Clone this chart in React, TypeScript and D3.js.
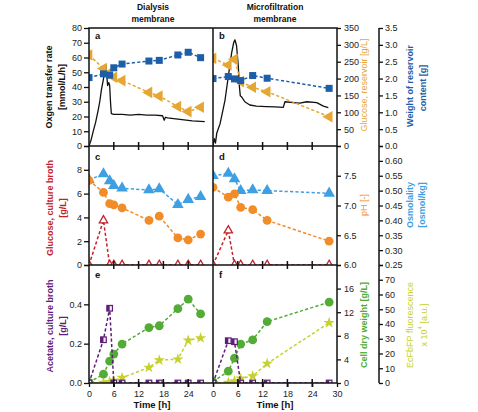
import React, { useEffect, useRef } from 'react';
import * as d3 from 'd3';

// ---- oxygen transfer rate (continuous signal)
const otrDialysisTime = [0, 0.5, 1.0, 1.6, 2.2, 2.6, 3.0, 3.4, 3.8, 4.1, 4.3, 4.5, 4.8, 5.0, 5.2, 5.4, 6, 8, 10, 12, 14, 16, 17.8, 18.2, 18.5, 19, 22, 25, 28];
const otrDialysis = [0, 4, 9.7, 16, 24, 30, 38, 44, 50, 55, 48, 41, 43, 41, 30, 22, 21.5, 21.5, 21, 21.5, 21, 21, 20.5, 17.5, 19.5, 19, 18, 17, 16.5];
const otrMicroTime = [0, 0.3, 0.6, 0.9, 1.7, 2.9, 3.7, 4.5, 5.0, 5.3, 5.7, 6.1, 6.4, 6.6, 7.0, 7.7, 8.9, 10.5, 12.9, 15, 17, 17.4, 19.4, 21, 22.7, 25.1, 26.7, 27.9];
const otrMicro = [0, 5, 2, 8.6, 15, 31, 47, 63, 70, 72, 68, 55, 40, 34, 33, 30, 27.8, 27, 26.7, 26.5, 26.2, 30, 29.4, 29, 30, 29.4, 27, 26];

// ---- dialysis membrane samples
const dialysisTime = [0, 3.5, 5, 6, 8, 14.5, 17, 21.5, 24, 27];
const dialysisGlcReservoir = [270, 230, 217, 204, 194, 159, 148, 117, 102, 115];
const dialysisWeight = [2.03, 2.14, 2.1, 2.32, 2.43, 2.52, 2.54, 2.7, 2.78, 2.62];
const dialysisOsmolality = [0.536, 0.556, 0.533, 0.517, 0.508, 0.502, 0.506, 0.453, 0.47, 0.48];
const dialysisPh = [7.42, 7.22, 7.03, 7.01, 6.96, 6.75, 6.82, 6.455, 6.42, 6.52];
const dialysisGlcBroth = [0, 3.75, 0, 0, 0, 0, 0, 0, 0, 0];
const dialysisCdw = [0.1, 1.5, 3.7, 4.9, 6.6, 9.4, 9.7, 12.6, 14.2, 11.7];
const dialysisFluor = [0, 0.3, 0.8, 1.6, 3.6, 10.5, 15.5, 16.1, 28.9, 30.5];
const dialysisAcetate = [0, 0.22, 0.38, 0, 0, 0, 0, 0, 0, 0];

// ---- microfiltration membrane samples
const microTime = [0, 3.7, 5.2, 6.7, 9.6, 13.1, 28.1];
const microGlcReservoir = [260, 240, 257, 191, 174, 161, 87];
const microWeight = [2.0, 2.06, 1.99, 1.94, 2.09, 2.01, 1.71];
const microOsmolality = [0.55, 0.558, 0.539, 0.5, 0.502, 0.5, 0.491];
const microPh = [7.305, 7.14, 7.195, 6.97, 6.93, 6.75, 6.4];
const microGlcBroth = [0, 2.9, 0, 0, 0, 0, 0];
const microCdw = [0.2, 2.0, 4.2, 6.6, 7.3, 10.4, 13.7];
const microFluor = [0, 0.3, 1.3, 3.1, 4.7, 13.2, 40.8];
const microAcetate = [0, 0.215, 0.21, 0, 0, 0, 0];

// ---- tick values
const timeTicks = [0, 6, 12, 18, 24, 30];
const otrTicks = [0, 10, 20, 30, 40, 50, 60, 70, 80];
const glcResTicks = [0, 50, 100, 150, 200, 250, 300, 350];
const weightTicks = [0, 0.5, 1, 1.5, 2, 2.5, 3, 3.5];
const glcBrothTicks = [0, 2, 4, 6, 8, 10];
const phTicks = [6, 6.5, 7, 7.5, 8];
const osmTicks = [0.25, 0.3, 0.35, 0.4, 0.45, 0.5, 0.55, 0.6, 0.65];
const acetateTicks = [0, 0.2, 0.4, 0.6];
const cdwTicks = [0, 4, 8, 12, 16, 20];
const fluorTicks = [0, 10, 20, 30, 40, 50, 60, 70, 80];

const FONT = '"Liberation Sans", Arial, Helvetica, sans-serif';

const C = {
  gres: '#e6a633',
  weight: '#1c5ea8',
  osm: '#3f9fe3',
  ph: '#f28c28',
  glc: '#c0232b',
  cdw: '#52ac36',
  fl: '#c5d12c',
  ac: '#5f1d7a'
};

export default function App() {
  const ref = useRef(null);

  useEffect(() => {
    const svg = d3.select(ref.current);
    svg.selectAll('*').remove();

    const left = 89, mid = 213, right = 337, ax2 = 379;
    const rows = [[28, 146], [146, 265], [265, 383]];

    const xL = d3.scaleLinear().domain([0, 30]).range([left, mid]);
    const xR = d3.scaleLinear().domain([0, 30]).range([mid, right]);

    const yOtr = d3.scaleLinear().domain([0, 80]).range([rows[0][1], rows[0][0]]);
    const yGres = d3.scaleLinear().domain([0, 350]).range([rows[0][1], rows[0][0]]);
    const yW = d3.scaleLinear().domain([0, 3.5]).range([rows[0][1], rows[0][0]]);
    const yGlc = d3.scaleLinear().domain([0, 10]).range([rows[1][1], rows[1][0]]);
    const yPh = d3.scaleLinear().domain([6, 8]).range([rows[1][1], rows[1][0]]);
    const yOsm = d3.scaleLinear().domain([0.25, 0.65]).range([rows[1][1], rows[1][0]]);
    const yAc = d3.scaleLinear().domain([0, 0.6]).range([rows[2][1], rows[2][0]]);
    const yCdw = d3.scaleLinear().domain([0, 20]).range([rows[2][1], rows[2][0]]);
    const yFl = d3.scaleLinear().domain([0, 80]).range([rows[2][1], rows[2][0]]);

    // clip paths, one per panel
    const defs = svg.append('defs');
    const clipId = (c, r) => `clip-${c}-${r}`;
    [[left, mid], [mid, right]].forEach((xs, c) => {
      rows.forEach((ys, r) => {
        defs.append('clipPath').attr('id', clipId(c, r))
          .append('rect')
          .attr('x', xs[0]).attr('y', ys[0])
          .attr('width', xs[1] - xs[0]).attr('height', ys[1] - ys[0]);
      });
    });

    const marker = (g, kind, color, px, py) => {
      if (kind === 'square') {
        g.append('rect').attr('x', px - 3.5).attr('y', py - 3.5).attr('width', 7).attr('height', 7)
          .attr('fill', color);
      } else if (kind === 'halfsquare') {
        g.append('rect').attr('x', px - 2.8).attr('y', py - 2.8).attr('width', 5.6).attr('height', 5.6)
          .attr('fill', '#f4ecf7').attr('stroke', color).attr('stroke-width', 1.2);
        g.append('rect').attr('x', px - 2.8).attr('y', py - 2.8).attr('width', 2.8).attr('height', 5.6)
          .attr('fill', color);
      } else if (kind === 'circle') {
        g.append('circle').attr('cx', px).attr('cy', py).attr('r', 4.4).attr('fill', color);
      } else if (kind === 'tri-up') {
        g.append('path').attr('d', d3.symbol(d3.symbolTriangle, 58)())
          .attr('transform', `translate(${px},${py})`).attr('fill', color);
      } else if (kind === 'tri-left') {
        g.append('path').attr('d', d3.symbol(d3.symbolTriangle, 58)())
          .attr('transform', `translate(${px},${py}) rotate(-90)`).attr('fill', color);
      } else if (kind === 'tri-open') {
        g.append('path').attr('d', d3.symbol(d3.symbolTriangle, 30)())
          .attr('transform', `translate(${px},${py})`)
          .attr('fill', '#fff').attr('stroke', color).attr('stroke-width', 1.3);
      } else if (kind === 'star') {
        g.append('path').attr('d', d3.symbol(d3.symbolStar, 40)())
          .attr('transform', `translate(${px},${py})`).attr('fill', color);
      }
    };

    const series = (c, r, xScale, xs, vs, yScale, color, kind) => {
      const g = svg.append('g').attr('clip-path', `url(#${clipId(c, r)})`);
      const pts = xs.map((t, i) => [xScale(t), yScale(vs[i])]);
      g.append('path')
        .attr('d', d3.line()(pts))
        .attr('fill', 'none')
        .attr('stroke', color)
        .attr('stroke-width', 1.5)
        .attr('stroke-dasharray', '3.2,2.2');
      pts.forEach(p => marker(g, kind, color, p[0], p[1]));
    };

    const solid = (c, r, xScale, xs, vs, yScale) => {
      svg.append('g').attr('clip-path', `url(#${clipId(c, r)})`)
        .append('path')
        .attr('d', d3.line()(xs.map((t, i) => [xScale(t), yScale(vs[i])])))
        .attr('fill', 'none')
        .attr('stroke', '#111')
        .attr('stroke-width', 1.3)
        .attr('stroke-linejoin', 'round');
    };

    // row a / b
    solid(0, 0, xL, otrDialysisTime, otrDialysis, yOtr);
    series(0, 0, xL, dialysisTime, dialysisGlcReservoir, yGres, C.gres, 'tri-left');
    series(0, 0, xL, dialysisTime, dialysisWeight, yW, C.weight, 'square');
    solid(1, 0, xR, otrMicroTime, otrMicro, yOtr);
    series(1, 0, xR, microTime, microGlcReservoir, yGres, C.gres, 'tri-left');
    series(1, 0, xR, microTime, microWeight, yW, C.weight, 'square');

    // row c / d
    series(0, 1, xL, dialysisTime, dialysisGlcBroth, yGlc, C.glc, 'tri-open');
    series(0, 1, xL, dialysisTime, dialysisOsmolality, yOsm, C.osm, 'tri-up');
    series(0, 1, xL, dialysisTime, dialysisPh, yPh, C.ph, 'circle');
    series(1, 1, xR, microTime, microGlcBroth, yGlc, C.glc, 'tri-open');
    series(1, 1, xR, microTime, microOsmolality, yOsm, C.osm, 'tri-up');
    series(1, 1, xR, microTime, microPh, yPh, C.ph, 'circle');

    // row e / f
    series(0, 2, xL, dialysisTime, dialysisFluor, yFl, C.fl, 'star');
    series(0, 2, xL, dialysisTime, dialysisCdw, yCdw, C.cdw, 'circle');
    series(0, 2, xL, dialysisTime, dialysisAcetate, yAc, C.ac, 'halfsquare');
    series(1, 2, xR, microTime, microFluor, yFl, C.fl, 'star');
    series(1, 2, xR, microTime, microCdw, yCdw, C.cdw, 'circle');
    series(1, 2, xR, microTime, microAcetate, yAc, C.ac, 'halfsquare');

    // frame
    const frame = svg.append('g').attr('stroke', '#111').attr('stroke-width', 1.5).attr('fill', 'none');
    frame.append('rect').attr('x', left).attr('y', rows[0][0]).attr('width', right - left).attr('height', rows[2][1] - rows[0][0]);
    frame.append('line').attr('x1', mid).attr('x2', mid).attr('y1', rows[0][0]).attr('y2', rows[2][1]);
    frame.append('line').attr('x1', left).attr('x2', right).attr('y1', rows[1][0]).attr('y2', rows[1][0]);
    frame.append('line').attr('x1', left).attr('x2', right).attr('y1', rows[2][0]).attr('y2', rows[2][0]);
    frame.append('line').attr('x1', ax2).attr('x2', ax2).attr('y1', rows[0][0]).attr('y2', rows[2][1]);

    // time ticks on horizontal borders
    [xL, xR].forEach(xs => {
      [rows[1][0], rows[2][0], rows[2][1]].forEach(yy => {
        timeTicks.slice(1, 5).forEach(t => {
          frame.append('line').attr('x1', xs(t)).attr('x2', xs(t)).attr('y1', yy - 4).attr('y2', yy + 4);
        });
      });
    });

    const styleAxis = (g) => {
      g.select('.domain').remove();
      g.selectAll('line').attr('stroke', '#111').attr('stroke-width', 1.3);
      g.selectAll('text').attr('font-family', FONT).attr('font-size', 9).attr('fill', '#222');
    };
    const fmt = (labels, f) => (d) => (labels.includes(d) ? f(d) : '');

    // left axes
    svg.append('g').attr('transform', `translate(${left},0)`)
      .call(d3.axisLeft(yOtr).tickValues(otrTicks).tickSize(5).tickPadding(2).tickFormat(d3.format('d')))
      .call(styleAxis);
    svg.append('g').attr('transform', `translate(${left},0)`)
      .call(d3.axisLeft(yGlc).tickValues(glcBrothTicks).tickSize(5).tickPadding(2)
        .tickFormat(fmt([0, 2, 4, 6, 8], d3.format('d'))))
      .call(styleAxis);
    svg.append('g').attr('transform', `translate(${left},0)`)
      .call(d3.axisLeft(yAc).tickValues(acetateTicks).tickSize(5).tickPadding(2)
        .tickFormat(fmt([0, 0.2, 0.4], d3.format('.1f'))))
      .call(styleAxis);

    // right axes (first)
    svg.append('g').attr('transform', `translate(${right},0)`)
      .call(d3.axisRight(yGres).tickValues(glcResTicks).tickSize(4).tickPadding(3).tickFormat(d3.format('d')))
      .call(styleAxis);
    svg.append('g').attr('transform', `translate(${right},0)`)
      .call(d3.axisRight(yPh).tickValues(phTicks).tickSize(4).tickPadding(3)
        .tickFormat(fmt([6, 6.5, 7, 7.5], d3.format('.1f'))))
      .call(styleAxis);
    svg.append('g').attr('transform', `translate(${right},0)`)
      .call(d3.axisRight(yCdw).tickValues(cdwTicks).tickSize(4).tickPadding(3)
        .tickFormat(fmt([0, 4, 8, 12, 16], d3.format('d'))))
      .call(styleAxis);

    // right axes (second)
    svg.append('g').attr('transform', `translate(${ax2},0)`)
      .call(d3.axisRight(yW).tickValues(weightTicks).tickSize(4).tickPadding(2).tickFormat(d3.format('.1f')))
      .call(styleAxis);
    svg.append('g').attr('transform', `translate(${ax2},0)`)
      .call(d3.axisRight(yOsm).tickValues(osmTicks).tickSize(4).tickPadding(2)
        .tickFormat(d => (Math.abs(d - 0.65) < 1e-6 ? '' : d3.format('.2f')(d))))
      .call(styleAxis);
    svg.append('g').attr('transform', `translate(${ax2},0)`)
      .call(d3.axisRight(yFl).tickValues(fluorTicks).tickSize(4).tickPadding(2)
        .tickFormat(fmt([0, 10, 20, 30, 40, 50, 60, 70], d3.format('d'))))
      .call(styleAxis);

    // bottom time axes
    svg.append('g').attr('transform', `translate(0,${rows[2][1]})`)
      .call(d3.axisBottom(xL).tickValues(timeTicks).tickSize(4).tickPadding(4)
        .tickFormat(d => (d === 30 ? '' : String(d))))
      .call(styleAxis);
    svg.append('g').attr('transform', `translate(0,${rows[2][1]})`)
      .call(d3.axisBottom(xR).tickValues(timeTicks).tickSize(4).tickPadding(4).tickFormat(d3.format('d')))
      .call(styleAxis);

    // text helpers
    const text = (x, y, str, opts = {}) => {
      return svg.append('text')
        .attr('x', x).attr('y', y)
        .attr('font-family', FONT)
        .attr('font-size', opts.size || 9)
        .attr('font-weight', opts.weight || 'normal')
        .attr('fill', opts.color || '#111')
        .attr('text-anchor', opts.anchor || 'middle')
        .text(str);
    };
    const vtext = (x, y, str, color, weight) => {
      return svg.append('text')
        .attr('transform', `translate(${x},${y}) rotate(-90)`)
        .attr('font-family', FONT)
        .attr('font-size', 9)
        .attr('font-weight', weight || 'normal')
        .attr('fill', color)
        .attr('text-anchor', 'middle')
        .attr('dominant-baseline', 'central')
        .text(str);
    };

    // column titles
    text(153, 10, 'Dialysis', { weight: 'bold', size: 8.5 });
    text(153, 22, 'membrane', { weight: 'bold', size: 8.5 });
    text(275, 10, 'Microfiltration', { weight: 'bold', size: 8.5 });
    text(275, 22, 'membrane', { weight: 'bold', size: 8.5 });

    // panel letters
    [['a', 95, 39], ['b', 219, 39], ['c', 95, 160], ['d', 219, 160], ['e', 95, 278], ['f', 219, 278]]
      .forEach(([l, x, y]) => text(x, y, l, { weight: 'bold', size: 9.5, anchor: 'start' }));

    // time labels
    text(152, 408, 'Time   [h]', { weight: 'bold', size: 9.5 });
    text(275, 408, 'Time   [h]', { weight: 'bold', size: 9.5 });

    // left titles
    vtext(49, 87, 'Oxgen transfer rate', '#111', 'bold');
    vtext(62, 87, '[mmol/L/h]', '#111', 'bold');
    vtext(50, 208, 'Glucose, culture broth', C.glc, 'bold');
    vtext(63, 208, '[g/L]', C.glc, 'bold');
    vtext(50, 326, 'Acetate, culture broth', C.ac, 'bold');
    vtext(63, 326, '[g/L]', C.ac, 'bold');

    // right titles
    vtext(364, 85, 'Glucose, reservoir  [g/L]', C.gres);
    vtext(410, 86, 'Weight  of reservoir', C.weight, 'bold');
    vtext(423, 88, 'content  [g]', C.weight, 'bold');
    vtext(364, 205, 'pH  [-]', C.ph);
    vtext(410, 205, 'Osmolality', C.osm, 'bold');
    vtext(422, 205, '[osmol/kg]', C.osm, 'bold');
    vtext(364, 325, 'Cell dry weight  [g/L]', C.cdw, 'bold');
    vtext(410, 325, 'EcFbFP fluorescence', C.fl);
    const sup = vtext(424, 325, '', C.fl);
    sup.append('tspan').text('x 10');
    sup.append('tspan').attr('font-size', 6).attr('dy', -4).text('4');
    sup.append('tspan').attr('dy', 4).text('  [a.u.]');
  }, []);

  return (
    <svg
      ref={ref}
      width={478}
      height={412}
      style={{ position: 'absolute', left: 0, top: 0, background: '#fff' }}
    />
  );
}
